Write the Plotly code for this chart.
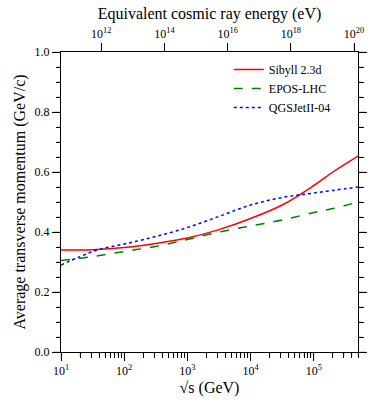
import math

import plotly.graph_objects as go

# sqrt(s) in GeV
sqrt_s = [10, 31.6, 100, 316, 1000, 3160, 10000, 31600, 100000, 200000, 500000]

sibyll = [0.340, 0.341, 0.348, 0.362, 0.380, 0.408, 0.445, 0.490, 0.555, 0.600, 0.653]
epos = [0.305, 0.318, 0.335, 0.352, 0.375, 0.400, 0.420, 0.440, 0.465, 0.478, 0.500]

qgs_sqrt_s = [10, 20, 40, 100, 316, 1000, 3160, 10000, 31600, 100000, 500000]
qgsjet = [0.290, 0.318, 0.342, 0.360, 0.385, 0.415, 0.452, 0.490, 0.515, 0.530, 0.550]

bottom_ticks = [1e1, 1e2, 1e3, 1e4, 1e5]
bottom_labels = ['10<sup>1</sup>', '10<sup>2</sup>', '10<sup>3</sup>', '10<sup>4</sup>', '10<sup>5</sup>']
top_ticks = [1e12, 1e14, 1e16, 1e18, 1e20]
top_labels = ['10<sup>12</sup>', '10<sup>14</sup>', '10<sup>16</sup>', '10<sup>18</sup>', '10<sup>20</sup>']
y_ticks = [0.0, 0.2, 0.4, 0.6, 0.8, 1.0]

FONT = 'serif'
X_MIN, X_MAX = 10, 5e5
M_P = 0.938  # GeV
PLOT_W, PLOT_H = 299, 300
MAJOR, MINOR = 8, 4.5


def to_energy_ev(rs):
    return rs ** 2 / (2 * M_P) * 1e9


lo, hi = math.log10(X_MIN), math.log10(X_MAX)
lo2, hi2 = math.log10(to_energy_ev(X_MIN)), math.log10(to_energy_ev(X_MAX))


def tick(x0, x1, y0, y1):
    return {'type': 'line', 'xref': 'paper', 'yref': 'paper', 'x0': x0, 'x1': x1,
            'y0': y0, 'y1': y1, 'line': {'color': 'black', 'width': 1}, 'layer': 'above'}


# axis ticks also drawn as shapes
shapes = []
for n in range(1, 6):
    for k in range(1, 10):
        v = k * 10 ** n
        if v > X_MAX:
            break
        fx = (math.log10(v) - lo) / (hi - lo)
        length = MAJOR if k == 1 else MINOR
        shapes.append(tick(fx, fx, 0, -length / PLOT_H))
for v in top_ticks:
    fx = (math.log10(v) - lo2) / (hi2 - lo2)
    shapes.append(tick(fx, fx, 1, 1 + MAJOR / PLOT_H))
for i in range(21):
    fy = i * 0.05
    length = MAJOR if i % 4 == 0 else MINOR
    shapes.append(tick(0, -length / PLOT_W, fy, fy))
    shapes.append(tick(1, 1 + length / PLOT_W, fy, fy))

fig = go.Figure()
fig.add_trace(go.Scatter(x=sqrt_s, y=sibyll, mode='lines', name='Sibyll 2.3d',
                         line={'color': '#ff0000', 'width': 1.5, 'shape': 'spline'}))
fig.add_trace(go.Scatter(x=sqrt_s, y=epos, mode='lines', name='EPOS-LHC',
                         line={'color': '#008000', 'width': 1.5, 'dash': 'dash', 'shape': 'spline'}))
fig.add_trace(go.Scatter(x=qgs_sqrt_s, y=qgsjet, mode='lines', name='QGSJetII-04',
                         line={'color': '#0000ff', 'width': 1.5, 'dash': 'dot', 'shape': 'spline'}))
# invisible trace to activate the top axis
fig.add_trace(go.Scatter(x=[to_energy_ev(X_MIN)], y=[0], xaxis='x2', mode='markers',
                         marker={'opacity': 0}, showlegend=False, hoverinfo='skip'))

axis_common = {
    'showgrid': False,
    'zeroline': False,
    'showline': True,
    'linecolor': 'black',
    'linewidth': 1,
    'ticks': 'outside',
    'ticklen': MAJOR,
    'tickwidth': 1,
    'tickcolor': 'black',
    'tickfont': {'size': 12},
}
minor_common = {'ticks': 'outside', 'ticklen': MINOR, 'tickwidth': 1, 'tickcolor': 'black'}

fig.update_layout(
    template='simple_white',
    width=379,
    height=407,
    margin={'l': 61, 'r': 19, 't': 52, 'b': 55},
    plot_bgcolor='white',
    paper_bgcolor='white',
    font={'family': FONT, 'size': 13, 'color': 'black'},
    shapes=shapes,
    xaxis={
        **axis_common,
        'type': 'log',
        'range': [lo, hi],
        'tickvals': bottom_ticks,
        'ticktext': bottom_labels,
        'minor': {**minor_common, 'dtick': 'D1'},
        'title': {'text': '√s (GeV)', 'standoff': 4},
    },
    xaxis2={
        **axis_common,
        'type': 'log',
        'overlaying': 'x',
        'side': 'top',
        'range': [lo2, hi2],
        'tickvals': top_ticks,
        'ticktext': top_labels,
        'title': {'text': 'Equivalent cosmic ray energy (eV)', 'standoff': 2},
    },
    yaxis={
        **axis_common,
        'range': [0, 1],
        'tickvals': y_ticks,
        'tickformat': '.1f',
        'mirror': 'ticks',
        'minor': {**minor_common, 'dtick': 0.05},
        'title': {'text': 'Average transverse momentum (GeV/c)', 'standoff': 4},
    },
    legend={
        'x': 0.565, 'y': 0.99, 'xanchor': 'left', 'yanchor': 'top',
        'bgcolor': 'rgba(255,255,255,0)',
        'font': {'size': 12},
        'tracegroupgap': 0,
    },
    showlegend=True,
)

fig.write_html('out.html', config={'displayModeBar': False},
               post_script="document.body.style.margin='0';")
